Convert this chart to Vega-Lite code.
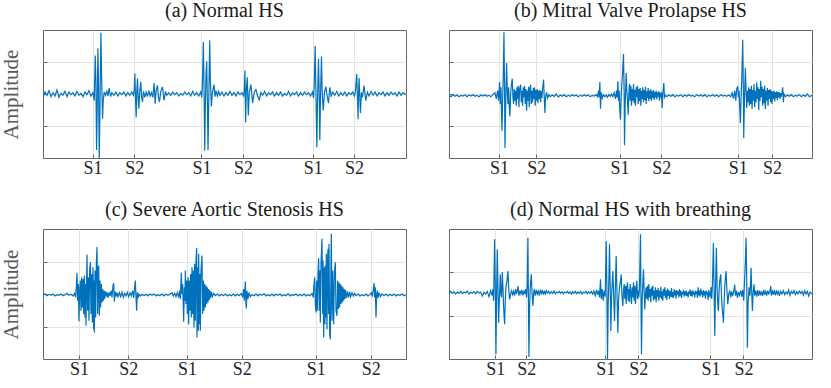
{
"$schema":"https://vega.github.io/schema/vega-lite/v6.json",
"padding":{"left":0,"top":0,"right":5,"bottom":5},
"background":"white",
"bounds":"flush",
"columns":2,
"spacing":{"row":71,"column":43},
"config":{
"font":"Liberation Serif",
"view":{"stroke":"#666666","strokeWidth":1},
"axis":{"gridColor":"#e3e3e3","gridWidth":1,"domain":false,"tickColor":"#666666","tickSize":-4,"labelFont":"Liberation Serif","labelFontSize":18,"labelColor":"#262626","labelPadding":5,"titleFont":"Liberation Serif","titleFontSize":21,"titleFontWeight":"normal","titleColor":"#595959"},
"title":{"font":"Liberation Serif","fontSize":20,"fontWeight":"normal","color":"#1a1a1a","offset":9},
"line":{"color":"#0072BD","strokeWidth":1.2}
},
"datasets":{
"a":[
{"t":126,"v":-10},{"t":132,"v":6},{"t":138,"v":-4},{"t":144,"v":10},{"t":150,"v":-8},{"t":156,"v":4},{"t":162,"v":-6},{"t":168,"v":12},{"t":174,"v":-10},{"t":180,"v":2},{"t":186,"v":-4},{"t":192,"v":8},{"t":198,"v":-8},{"t":204,"v":6},{"t":210,"v":-2},{"t":216,"v":4},{"t":222,"v":-6},{"t":228,"v":8},{"t":234,"v":-4},{"t":240,"v":2},{"t":246,"v":-8},{"t":252,"v":6},{"t":258,"v":-2},{"t":264,"v":10},{"t":270,"v":-6},{"t":276,"v":4},
{"t":280,"v":-20},{"t":283,"v":115},{"t":285,"v":40},{"t":287,"v":-167},{"t":289,"v":-40},{"t":291,"v":136},{"t":293,"v":30},{"t":295,"v":-191},{"t":297,"v":-60},{"t":300,"v":183},{"t":302,"v":60},{"t":305,"v":-74},{"t":307,"v":-20},{"t":310,"v":6},{"t":314,"v":-4},{"t":318,"v":8},{"t":321,"v":-6},{"t":325,"v":18},{"t":329,"v":-8},{"t":333,"v":4},{"t":339,"v":-4},{"t":345,"v":6},{"t":351,"v":-6},{"t":357,"v":4},{"t":363,"v":-2},{"t":369,"v":6},{"t":375,"v":-6},{"t":381,"v":4},{"t":387,"v":-4},{"t":393,"v":6},{"t":398,"v":-4},
{"t":400,"v":10},{"t":402,"v":61},{"t":404,"v":-10},{"t":406,"v":-69},{"t":408,"v":10},{"t":410,"v":46},{"t":412,"v":-10},{"t":414,"v":-44},{"t":417,"v":10},{"t":420,"v":36},{"t":422,"v":-5},{"t":425,"v":-24},{"t":428,"v":8},{"t":432,"v":-10},{"t":436,"v":6},{"t":440,"v":-8},{"t":444,"v":10},{"t":448,"v":-6},{"t":452,"v":4},{"t":456,"v":-10},{"t":460,"v":33},{"t":463,"v":-29},{"t":466,"v":10},{"t":470,"v":26},{"t":473,"v":-10},{"t":476,"v":-24},{"t":480,"v":8},{"t":485,"v":21},{"t":488,"v":-5},{"t":490,"v":-19},{"t":494,"v":8},{"t":498,"v":-4},
{"t":504,"v":4},{"t":510,"v":-4},{"t":516,"v":6},{"t":522,"v":-2},{"t":528,"v":4},{"t":534,"v":-6},{"t":540,"v":2},{"t":546,"v":-4},{"t":552,"v":6},{"t":558,"v":-2},{"t":564,"v":4},{"t":570,"v":-6},{"t":576,"v":8},{"t":582,"v":-4},{"t":588,"v":4},{"t":594,"v":-6},{"t":600,"v":6},
{"t":603,"v":-10},{"t":605,"v":20},{"t":608,"v":155},{"t":610,"v":20},{"t":612,"v":-169},{"t":614,"v":-30},{"t":616,"v":60},{"t":618,"v":98},{"t":620,"v":-20},{"t":622,"v":-167},{"t":624,"v":-30},{"t":627,"v":160},{"t":629,"v":40},{"t":632,"v":-37},{"t":635,"v":5},{"t":640,"v":28},{"t":643,"v":-8},{"t":646,"v":10},{"t":650,"v":-6},{"t":654,"v":8},{"t":658,"v":-4},{"t":664,"v":6},{"t":670,"v":-6},{"t":676,"v":4},{"t":682,"v":-4},{"t":688,"v":8},{"t":694,"v":-4},{"t":700,"v":4},{"t":706,"v":-6},{"t":712,"v":6},{"t":718,"v":-2},{"t":724,"v":4},{"t":729,"v":-6},
{"t":731,"v":10},{"t":733,"v":70},{"t":735,"v":-85},{"t":737,"v":10},{"t":740,"v":50},{"t":743,"v":-64},{"t":746,"v":5},{"t":751,"v":28},{"t":756,"v":-27},{"t":761,"v":6},{"t":766,"v":13},{"t":771,"v":-6},{"t":776,"v":-17},{"t":781,"v":4},{"t":786,"v":-4},{"t":792,"v":8},{"t":798,"v":-6},{"t":804,"v":4},{"t":810,"v":-2},{"t":816,"v":6},{"t":822,"v":-6},{"t":828,"v":4},{"t":834,"v":-4},{"t":840,"v":6},{"t":846,"v":-6},{"t":852,"v":2},{"t":858,"v":-4},{"t":864,"v":8},{"t":870,"v":-6},{"t":876,"v":4},{"t":882,"v":-2},{"t":888,"v":6},{"t":894,"v":-6},{"t":900,"v":4},{"t":906,"v":-4},{"t":912,"v":6},{"t":918,"v":-2},{"t":924,"v":4},{"t":930,"v":-6},{"t":936,"v":6},
{"t":939,"v":-12},{"t":941,"v":20},{"t":944,"v":143},{"t":946,"v":20},{"t":949,"v":-159},{"t":951,"v":-20},{"t":954,"v":105},{"t":956,"v":10},{"t":958,"v":-137},{"t":960,"v":-10},{"t":963,"v":112},{"t":965,"v":10},{"t":968,"v":-50},{"t":972,"v":4},{"t":976,"v":22},{"t":980,"v":-6},{"t":984,"v":-27},{"t":988,"v":20},{"t":992,"v":-6},{"t":997,"v":6},{"t":1003,"v":-4},{"t":1009,"v":8},{"t":1015,"v":-6},{"t":1021,"v":4},{"t":1027,"v":-4},{"t":1033,"v":6},{"t":1039,"v":-6},{"t":1045,"v":4},{"t":1051,"v":-2},{"t":1057,"v":6},{"t":1062,"v":-6},
{"t":1065,"v":8},{"t":1069,"v":60},{"t":1071,"v":-10},{"t":1073,"v":-75},{"t":1074,"v":-10},{"t":1076,"v":48},{"t":1078,"v":-5},{"t":1080,"v":-57},{"t":1083,"v":5},{"t":1086,"v":-10},{"t":1091,"v":25},{"t":1096,"v":-20},{"t":1101,"v":6},{"t":1106,"v":-6},{"t":1112,"v":8},{"t":1118,"v":-4},{"t":1124,"v":6},{"t":1130,"v":-6},{"t":1136,"v":4},{"t":1142,"v":-2},{"t":1148,"v":6},{"t":1154,"v":-6},{"t":1160,"v":4},{"t":1166,"v":-4},{"t":1172,"v":6},{"t":1178,"v":-2},{"t":1184,"v":4},{"t":1190,"v":-6},{"t":1196,"v":6},{"t":1202,"v":-4},{"t":1208,"v":4},{"t":1217,"v":-2}
],
"b":[
{"t":100,"v":-4},{"t":106,"v":-8},{"t":112,"v":-2},{"t":118,"v":-7},{"t":124,"v":-3},{"t":130,"v":-8},{"t":136,"v":-4},{"t":142,"v":-6},{"t":148,"v":-2},{"t":154,"v":-8},{"t":160,"v":-3},{"t":166,"v":-6},{"t":172,"v":-2},{"t":178,"v":-7},{"t":184,"v":-4},{"t":190,"v":-8},{"t":196,"v":-3},{"t":202,"v":-6},{"t":208,"v":-2},{"t":214,"v":-7},{"t":220,"v":-4},{"t":226,"v":-8},{"t":232,"v":-2},{"t":238,"v":4},{"t":242,"v":-15},{"t":246,"v":10},{"t":249,"v":-20},
{"t":252,"v":36},{"t":254,"v":-30},{"t":256,"v":20},{"t":259,"v":-110},{"t":261,"v":-20},{"t":263,"v":60},{"t":265,"v":185},{"t":267,"v":0},{"t":268,"v":-162},{"t":270,"v":-40},{"t":273,"v":93},{"t":275,"v":10},{"t":277,"v":-30},{"t":279,"v":20},{"t":281,"v":-40},{"t":283,"v":-67},{"t":285,"v":0},{"t":287,"v":25},{"t":290,"v":46},{"t":292,"v":-10},{"t":294,"v":-30},{"t":296,"v":15},{"t":298,"v":-20},{"t":300,"v":10},{"t":302,"v":-35},{"t":304,"v":20},{"t":306,"v":-15},{"t":308,"v":25},{"t":310,"v":-40},{"t":312,"v":15},{"t":315,"v":28},{"t":317,"v":-25},{"t":319,"v":10},{"t":321,"v":-35},{"t":323,"v":20},{"t":325,"v":-10},{"t":327,"v":24},{"t":329,"v":-30},{"t":331,"v":15},{"t":333,"v":-50},{"t":335,"v":10},{"t":337,"v":-20},{"t":339,"v":22},{"t":341,"v":-40},{"t":343,"v":15},{"t":345,"v":28},{"t":347,"v":-30},{"t":349,"v":10},{"t":351,"v":-25},{"t":353,"v":18},{"t":355,"v":-15},{"t":357,"v":20},{"t":359,"v":-35},{"t":361,"v":12},{"t":363,"v":-20},{"t":365,"v":15},{"t":367,"v":-28},{"t":369,"v":10},{"t":371,"v":-15},{"t":373,"v":12},{"t":375,"v":-25},{"t":377,"v":8},{"t":379,"v":-12},{"t":381,"v":15},{"t":384,"v":43},{"t":386,"v":-10},{"t":388,"v":-57},{"t":390,"v":-10},{"t":393,"v":5},{"t":396,"v":-12},{"t":400,"v":-2},{"t":404,"v":-8},
{"t":410,"v":-3},{"t":416,"v":-7},{"t":422,"v":0},{"t":428,"v":-9},{"t":434,"v":-3},{"t":440,"v":-7},{"t":446,"v":-2},{"t":452,"v":-8},{"t":458,"v":-4},{"t":464,"v":-7},{"t":470,"v":-2},{"t":476,"v":-6},{"t":482,"v":-3},{"t":488,"v":-8},{"t":494,"v":-4},{"t":500,"v":-7},{"t":506,"v":-2},{"t":512,"v":-6},{"t":518,"v":-3},{"t":524,"v":-8},{"t":530,"v":-4},{"t":536,"v":-6},{"t":542,"v":-2},{"t":546,"v":-8},
{"t":549,"v":10},{"t":551,"v":-10},{"t":553,"v":36},{"t":555,"v":-44},{"t":557,"v":5},{"t":560,"v":-12},{"t":564,"v":-2},{"t":568,"v":-8},{"t":572,"v":-3},{"t":576,"v":-10},{"t":580,"v":-2},{"t":584,"v":-7},{"t":588,"v":0},{"t":592,"v":-8},{"t":596,"v":4},{"t":600,"v":-15},{"t":603,"v":10},{"t":605,"v":-10},{"t":607,"v":38},{"t":609,"v":-20},{"t":611,"v":10},{"t":613,"v":-50},{"t":615,"v":-77},{"t":617,"v":-10},{"t":619,"v":30},{"t":621,"v":60},{"t":624,"v":120},{"t":626,"v":0},{"t":627,"v":-154},{"t":629,"v":-30},{"t":632,"v":63},{"t":634,"v":10},{"t":636,"v":-20},{"t":638,"v":-62},{"t":640,"v":0},{"t":642,"v":30},{"t":644,"v":-20},{"t":646,"v":25},{"t":648,"v":-35},{"t":650,"v":15},{"t":652,"v":-20},{"t":654,"v":30},{"t":656,"v":-28},{"t":658,"v":12},{"t":660,"v":-35},{"t":662,"v":20},{"t":664,"v":-10},{"t":666,"v":25},{"t":668,"v":-30},{"t":670,"v":15},{"t":672,"v":-22},{"t":674,"v":18},{"t":676,"v":-35},{"t":678,"v":10},{"t":680,"v":-15},{"t":682,"v":20},{"t":684,"v":-25},{"t":686,"v":12},{"t":688,"v":-18},{"t":690,"v":22},{"t":692,"v":-30},{"t":694,"v":8},{"t":696,"v":-12},{"t":698,"v":18},{"t":700,"v":-22},{"t":702,"v":10},{"t":704,"v":-15},{"t":706,"v":15},{"t":708,"v":-20},{"t":710,"v":8},{"t":712,"v":-12},{"t":714,"v":12},{"t":716,"v":-18},{"t":718,"v":6},{"t":720,"v":-10},{"t":722,"v":10},{"t":724,"v":-16},{"t":726,"v":5},{"t":728,"v":-8},{"t":730,"v":8},{"t":732,"v":-20},{"t":734,"v":4},{"t":736,"v":-10},{"t":738,"v":5},{"t":740,"v":-42},{"t":742,"v":0},{"t":745,"v":33},{"t":747,"v":-10},{"t":750,"v":-4},{"t":754,"v":-8},{"t":760,"v":-3},
{"t":766,"v":-7},{"t":772,"v":-2},{"t":778,"v":-8},{"t":784,"v":-4},{"t":790,"v":-6},{"t":796,"v":-2},{"t":802,"v":-8},{"t":808,"v":-3},{"t":814,"v":-7},{"t":820,"v":-2},{"t":826,"v":-6},{"t":832,"v":-4},{"t":838,"v":-8},{"t":844,"v":-2},{"t":850,"v":-6},{"t":856,"v":-3},{"t":862,"v":-7},{"t":868,"v":-2},{"t":874,"v":-8},{"t":880,"v":-4},{"t":886,"v":-6},{"t":892,"v":-2},{"t":898,"v":-7},{"t":904,"v":-3},{"t":910,"v":-8},{"t":916,"v":-2},{"t":922,"v":-6},{"t":928,"v":-4},{"t":934,"v":-7},{"t":940,"v":-3},{"t":946,"v":-8},{"t":950,"v":4},{"t":954,"v":-14},{"t":958,"v":10},
{"t":961,"v":-20},{"t":964,"v":15},{"t":967,"v":23},{"t":969,"v":-10},{"t":971,"v":10},{"t":973,"v":-40},{"t":975,"v":-87},{"t":977,"v":-10},{"t":979,"v":40},{"t":982,"v":163},{"t":984,"v":0},{"t":985,"v":-132},{"t":987,"v":-20},{"t":990,"v":78},{"t":992,"v":10},{"t":994,"v":-42},{"t":996,"v":10},{"t":998,"v":-25},{"t":1000,"v":20},{"t":1002,"v":-35},{"t":1004,"v":15},{"t":1006,"v":-30},{"t":1008,"v":25},{"t":1010,"v":-45},{"t":1012,"v":12},{"t":1014,"v":-20},{"t":1016,"v":30},{"t":1018,"v":-40},{"t":1020,"v":10},{"t":1022,"v":-25},{"t":1024,"v":35},{"t":1026,"v":-15},{"t":1028,"v":20},{"t":1030,"v":-48},{"t":1032,"v":15},{"t":1034,"v":-20},{"t":1036,"v":40},{"t":1038,"v":-10},{"t":1040,"v":22},{"t":1042,"v":-35},{"t":1044,"v":15},{"t":1046,"v":-28},{"t":1048,"v":25},{"t":1050,"v":-45},{"t":1052,"v":10},{"t":1054,"v":-20},{"t":1056,"v":18},{"t":1058,"v":-35},{"t":1060,"v":12},{"t":1062,"v":-15},{"t":1064,"v":15},{"t":1066,"v":-25},{"t":1068,"v":10},{"t":1070,"v":-30},{"t":1072,"v":8},{"t":1074,"v":-15},{"t":1076,"v":10},{"t":1078,"v":-22},{"t":1080,"v":5},{"t":1082,"v":-12},{"t":1084,"v":8},{"t":1086,"v":-18},{"t":1088,"v":6},{"t":1090,"v":-10},{"t":1092,"v":5},{"t":1094,"v":-15},{"t":1096,"v":3},{"t":1098,"v":-8},{"t":1100,"v":4},{"t":1102,"v":20},{"t":1104,"v":-25},{"t":1106,"v":0},{"t":1110,"v":-8},{"t":1116,"v":-3},
{"t":1122,"v":-7},{"t":1128,"v":-2},{"t":1134,"v":-8},{"t":1140,"v":-4},{"t":1146,"v":-6},{"t":1152,"v":-2},{"t":1158,"v":-8},{"t":1164,"v":-3},{"t":1170,"v":-7},{"t":1176,"v":0},{"t":1182,"v":-8},{"t":1190,"v":-4}
],
"c":[
{"t":133,"v":-3},{"t":139,"v":0},{"t":145,"v":-5},{"t":151,"v":-1},{"t":157,"v":-4},{"t":163,"v":0},{"t":169,"v":-6},{"t":175,"v":-2},{"t":181,"v":-4},{"t":187,"v":0},{"t":193,"v":-5},{"t":199,"v":-2},{"t":205,"v":2},{"t":211,"v":-4},{"t":217,"v":-1},{"t":223,"v":-6},{"t":228,"v":2},{"t":231,"v":-10},{"t":233,"v":20},
{"t":235,"v":63},{"t":237,"v":-20},{"t":239,"v":30},{"t":241,"v":-81},{"t":243,"v":10},{"t":245,"v":40},{"t":247,"v":-50},{"t":249,"v":50},{"t":251,"v":-40},{"t":253,"v":45},{"t":255,"v":-60},{"t":257,"v":55},{"t":259,"v":-70},{"t":261,"v":30},{"t":262,"v":-95},{"t":264,"v":60},{"t":265,"v":117},{"t":267,"v":-50},{"t":269,"v":50},{"t":271,"v":-80},{"t":273,"v":70},{"t":275,"v":95},{"t":277,"v":-60},{"t":279,"v":60},{"t":281,"v":-85},{"t":283,"v":80},{"t":285,"v":-105},{"t":286,"v":40},{"t":287,"v":-115},{"t":289,"v":70},{"t":291,"v":-70},{"t":293,"v":90},{"t":295,"v":140},{"t":297,"v":-60},{"t":299,"v":80},{"t":300,"v":85},{"t":302,"v":-65},{"t":304,"v":40},{"t":306,"v":-40},{"t":308,"v":30},{"t":310,"v":-25},{"t":312,"v":15},{"t":314,"v":-20},{"t":316,"v":10},{"t":318,"v":-15},{"t":320,"v":8},{"t":322,"v":-8},{"t":325,"v":6},{"t":328,"v":-12},{"t":331,"v":5},{"t":334,"v":-6},{"t":337,"v":10},{"t":340,"v":-10},{"t":343,"v":25},{"t":345,"v":32},{"t":347,"v":-23},{"t":349,"v":8},{"t":352,"v":-8},{"t":355,"v":5},{"t":358,"v":-10},{"t":362,"v":4},{"t":366,"v":-8},{"t":370,"v":6},{"t":374,"v":-10},{"t":378,"v":2},{"t":382,"v":-6},{"t":386,"v":5},{"t":390,"v":-8},{"t":394,"v":4},{"t":398,"v":-6},{"t":402,"v":10},{"t":405,"v":-12},{"t":408,"v":20},{"t":410,"v":40},{"t":412,"v":-10},{"t":414,"v":-50},{"t":416,"v":5},{"t":418,"v":-12},{"t":421,"v":0},{"t":425,"v":-6},
{"t":430,"v":-1},{"t":436,"v":-5},{"t":442,"v":-1},{"t":448,"v":-6},{"t":454,"v":0},{"t":460,"v":-4},{"t":466,"v":0},{"t":472,"v":-6},{"t":478,"v":-2},{"t":484,"v":-5},{"t":490,"v":0},{"t":496,"v":-6},{"t":502,"v":-1},{"t":508,"v":-4},{"t":514,"v":0},{"t":520,"v":4},{"t":524,"v":-6},{"t":528,"v":2},{"t":532,"v":-8},{"t":536,"v":4},{"t":540,"v":-10},{"t":543,"v":10},{"t":545,"v":-15},
{"t":548,"v":63},{"t":550,"v":0},{"t":552,"v":30},{"t":555,"v":-83},{"t":557,"v":20},{"t":559,"v":-20},{"t":560,"v":70},{"t":562,"v":-30},{"t":564,"v":40},{"t":566,"v":-60},{"t":568,"v":50},{"t":570,"v":-90},{"t":572,"v":40},{"t":574,"v":-50},{"t":576,"v":60},{"t":578,"v":-70},{"t":580,"v":80},{"t":582,"v":-60},{"t":584,"v":70},{"t":586,"v":-100},{"t":588,"v":90},{"t":590,"v":-80},{"t":592,"v":100},{"t":594,"v":137},{"t":595,"v":-130},{"t":597,"v":80},{"t":599,"v":-110},{"t":600,"v":120},{"t":602,"v":-90},{"t":604,"v":60},{"t":605,"v":-110},{"t":607,"v":70},{"t":610,"v":115},{"t":612,"v":-60},{"t":614,"v":40},{"t":616,"v":-50},{"t":618,"v":30},{"t":620,"v":-40},{"t":622,"v":25},{"t":624,"v":-30},{"t":626,"v":20},{"t":628,"v":-25},{"t":630,"v":15},{"t":632,"v":-18},{"t":634,"v":10},{"t":636,"v":-12},{"t":638,"v":6},{"t":641,"v":-8},{"t":645,"v":2},
{"t":650,"v":-5},{"t":656,"v":0},{"t":662,"v":-6},{"t":668,"v":-1},{"t":674,"v":-5},{"t":680,"v":0},{"t":686,"v":-6},{"t":692,"v":-2},{"t":698,"v":-5},{"t":704,"v":0},{"t":710,"v":-6},{"t":716,"v":-1},{"t":722,"v":-5},{"t":728,"v":2},{"t":732,"v":-10},{"t":735,"v":15},{"t":737,"v":-20},{"t":740,"v":37},{"t":742,"v":-30},{"t":743,"v":-43},{"t":745,"v":10},{"t":748,"v":-15},{"t":751,"v":5},{"t":755,"v":-8},{"t":760,"v":-2},
{"t":766,"v":-5},{"t":772,"v":0},{"t":778,"v":-6},{"t":784,"v":-1},{"t":790,"v":-4},{"t":796,"v":1},{"t":802,"v":-6},{"t":808,"v":-2},{"t":814,"v":-5},{"t":820,"v":0},{"t":826,"v":-6},{"t":832,"v":-1},{"t":838,"v":-4},{"t":844,"v":0},{"t":850,"v":-6},{"t":856,"v":-2},{"t":862,"v":-5},{"t":868,"v":1},{"t":874,"v":-6},{"t":880,"v":-2},{"t":886,"v":-4},{"t":892,"v":0},{"t":898,"v":-6},{"t":904,"v":-1},{"t":910,"v":-5},{"t":916,"v":0},{"t":922,"v":-6},{"t":928,"v":-2},{"t":934,"v":-5},{"t":940,"v":2},{"t":944,"v":-10},{"t":946,"v":30},
{"t":948,"v":50},{"t":950,"v":-30},{"t":952,"v":-55},{"t":954,"v":40},{"t":956,"v":-50},{"t":958,"v":60},{"t":960,"v":107},{"t":962,"v":-50},{"t":964,"v":70},{"t":965,"v":-85},{"t":967,"v":90},{"t":970,"v":165},{"t":972,"v":-60},{"t":973,"v":100},{"t":975,"v":-130},{"t":977,"v":80},{"t":979,"v":-90},{"t":980,"v":85},{"t":982,"v":-70},{"t":983,"v":120},{"t":985,"v":-105},{"t":987,"v":110},{"t":988,"v":135},{"t":990,"v":-60},{"t":991,"v":150},{"t":993,"v":-120},{"t":995,"v":-135},{"t":997,"v":100},{"t":998,"v":180},{"t":1000,"v":-80},{"t":1002,"v":70},{"t":1005,"v":-90},{"t":1007,"v":60},{"t":1010,"v":95},{"t":1012,"v":-50},{"t":1015,"v":-65},{"t":1017,"v":40},{"t":1019,"v":-45},{"t":1021,"v":35},{"t":1023,"v":-40},{"t":1025,"v":30},{"t":1027,"v":-30},{"t":1029,"v":25},{"t":1031,"v":-25},{"t":1033,"v":20},{"t":1035,"v":-20},{"t":1037,"v":15},{"t":1039,"v":-15},{"t":1041,"v":12},{"t":1044,"v":-12},{"t":1047,"v":8},{"t":1050,"v":-10},{"t":1053,"v":6},{"t":1056,"v":-8},{"t":1060,"v":4},{"t":1064,"v":-6},{"t":1068,"v":2},{"t":1072,"v":-5},{"t":1078,"v":0},{"t":1084,"v":-6},{"t":1090,"v":-2},{"t":1096,"v":-5},{"t":1102,"v":0},{"t":1108,"v":-6},{"t":1114,"v":-2},{"t":1118,"v":4},{"t":1121,"v":-8},{"t":1124,"v":15},{"t":1126,"v":33},{"t":1128,"v":-10},{"t":1130,"v":20},{"t":1132,"v":-70},{"t":1134,"v":0},{"t":1136,"v":10},{"t":1138,"v":-12},{"t":1141,"v":4},{"t":1145,"v":-8},
{"t":1150,"v":0},{"t":1156,"v":-5},{"t":1162,"v":0},{"t":1168,"v":-6},{"t":1174,"v":-1},{"t":1180,"v":-5},{"t":1186,"v":0},{"t":1192,"v":-6},{"t":1198,"v":-2},{"t":1204,"v":-4},{"t":1210,"v":0},{"t":1216,"v":-5},{"t":1222,"v":-2}
],
"d":[
{"t":108,"v":0},{"t":113,"v":8},{"t":118,"v":2},{"t":123,"v":7},{"t":128,"v":0},{"t":133,"v":6},{"t":138,"v":2},{"t":143,"v":8},{"t":148,"v":1},{"t":153,"v":6},{"t":158,"v":3},{"t":163,"v":9},{"t":168,"v":0},{"t":173,"v":5},{"t":178,"v":2},{"t":183,"v":7},{"t":188,"v":1},{"t":193,"v":8},{"t":198,"v":3},{"t":203,"v":6},{"t":208,"v":-6},{"t":213,"v":5},{"t":218,"v":0},{"t":223,"v":8},{"t":228,"v":-8},{"t":233,"v":10},{"t":237,"v":-5},{"t":240,"v":15},{"t":242,"v":-20},
{"t":245,"v":164},{"t":247,"v":20},{"t":249,"v":-181},{"t":251,"v":10},{"t":253,"v":134},{"t":255,"v":20},{"t":257,"v":-86},{"t":259,"v":-20},{"t":261,"v":30},{"t":262,"v":59},{"t":264,"v":0},{"t":266,"v":-10},{"t":268,"v":66},{"t":270,"v":20},{"t":272,"v":-40},{"t":275,"v":-91},{"t":277,"v":-20},{"t":279,"v":20},{"t":282,"v":40},{"t":285,"v":69},{"t":287,"v":20},{"t":290,"v":-16},{"t":293,"v":0},{"t":296,"v":10},{"t":299,"v":-2},{"t":302,"v":8},{"t":305,"v":-5},{"t":308,"v":14},{"t":311,"v":0},{"t":315,"v":24},{"t":318,"v":-5},{"t":321,"v":10},{"t":324,"v":0},{"t":327,"v":12},{"t":330,"v":-4},{"t":333,"v":8},{"t":336,"v":0},{"t":338,"v":15},{"t":341,"v":-10},{"t":343,"v":30},{"t":345,"v":169},{"t":346,"v":40},{"t":348,"v":-189},{"t":350,"v":-40},{"t":352,"v":20},{"t":355,"v":59},{"t":357,"v":10},{"t":360,"v":-36},{"t":362,"v":0},{"t":364,"v":15},{"t":367,"v":-5},{"t":370,"v":12},{"t":373,"v":0},{"t":376,"v":9},{"t":379,"v":-4},{"t":382,"v":10},{"t":385,"v":2},{"t":388,"v":12},{"t":391,"v":-2},{"t":394,"v":8},{"t":397,"v":0},{"t":400,"v":10},
{"t":403,"v":3},{"t":407,"v":8},{"t":411,"v":1},{"t":415,"v":7},{"t":419,"v":2},{"t":423,"v":9},{"t":427,"v":1},{"t":431,"v":6},{"t":435,"v":3},{"t":439,"v":8},{"t":443,"v":2},{"t":447,"v":7},{"t":451,"v":1},{"t":455,"v":6},{"t":459,"v":3},{"t":463,"v":8},{"t":467,"v":2},{"t":471,"v":6},{"t":475,"v":0},{"t":479,"v":7},{"t":483,"v":2},{"t":487,"v":8},{"t":491,"v":1},{"t":495,"v":6},{"t":499,"v":2},{"t":503,"v":8},{"t":507,"v":0},{"t":511,"v":6},{"t":515,"v":3},{"t":519,"v":8},{"t":523,"v":1},{"t":527,"v":7},{"t":531,"v":2},{"t":535,"v":8},{"t":539,"v":0},{"t":543,"v":9},{"t":547,"v":-5},{"t":551,"v":12},{"t":554,"v":-2},{"t":557,"v":10},{"t":560,"v":-10},{"t":563,"v":44},{"t":565,"v":-15},{"t":568,"v":15},{"t":571,"v":-20},{"t":574,"v":10},{"t":577,"v":-8},
{"t":580,"v":159},{"t":582,"v":30},{"t":584,"v":-196},{"t":586,"v":-30},{"t":588,"v":40},{"t":590,"v":149},{"t":592,"v":20},{"t":594,"v":-111},{"t":596,"v":-10},{"t":598,"v":30},{"t":600,"v":69},{"t":602,"v":10},{"t":605,"v":-81},{"t":607,"v":0},{"t":610,"v":114},{"t":612,"v":20},{"t":615,"v":-116},{"t":617,"v":-20},{"t":620,"v":20},{"t":623,"v":40},{"t":625,"v":59},{"t":627,"v":0},{"t":630,"v":-36},{"t":632,"v":10},{"t":634,"v":30},{"t":636,"v":-15},{"t":638,"v":25},{"t":640,"v":-30},{"t":642,"v":20},{"t":644,"v":35},{"t":646,"v":-20},{"t":648,"v":15},{"t":650,"v":-25},{"t":652,"v":30},{"t":654,"v":5},{"t":656,"v":-30},{"t":658,"v":20},{"t":660,"v":-10},{"t":662,"v":35},{"t":664,"v":-20},{"t":666,"v":25},{"t":668,"v":-30},{"t":670,"v":15},{"t":672,"v":40},{"t":674,"v":-15},{"t":676,"v":10},{"t":678,"v":-10},{"t":680,"v":20},
{"t":683,"v":179},{"t":684,"v":40},{"t":686,"v":-181},{"t":688,"v":-20},{"t":690,"v":30},{"t":692,"v":74},{"t":694,"v":10},{"t":696,"v":-46},{"t":698,"v":0},{"t":700,"v":20},{"t":702,"v":-15},{"t":704,"v":25},{"t":706,"v":-20},{"t":708,"v":30},{"t":710,"v":-10},{"t":712,"v":15},{"t":714,"v":-25},{"t":716,"v":20},{"t":718,"v":-5},{"t":720,"v":25},{"t":722,"v":-20},{"t":724,"v":10},{"t":726,"v":-15},{"t":728,"v":20},{"t":730,"v":-25},{"t":732,"v":12},{"t":734,"v":-8},{"t":736,"v":18},{"t":738,"v":-20},{"t":740,"v":10},{"t":742,"v":-10},{"t":744,"v":22},{"t":746,"v":-15},{"t":748,"v":8},{"t":750,"v":-20},{"t":752,"v":15},{"t":754,"v":-5},{"t":756,"v":20},{"t":758,"v":-12},{"t":760,"v":10},{"t":762,"v":-18},{"t":764,"v":16},{"t":766,"v":-6},{"t":768,"v":12},{"t":770,"v":-15},{"t":772,"v":8},{"t":774,"v":-8},{"t":776,"v":18},{"t":778,"v":-10},{"t":780,"v":6},{"t":782,"v":-12},{"t":784,"v":14},{"t":786,"v":-4},{"t":788,"v":10},{"t":790,"v":-14},{"t":792,"v":12},{"t":794,"v":-2},{"t":796,"v":8},{"t":798,"v":-10},{"t":800,"v":15},{"t":802,"v":-5},{"t":804,"v":10},{"t":806,"v":-12},{"t":808,"v":6},{"t":810,"v":0},{"t":812,"v":12},{"t":814,"v":-8},{"t":816,"v":8},{"t":818,"v":-4},{"t":820,"v":10},{"t":822,"v":-6},{"t":824,"v":5},{"t":826,"v":-10},{"t":828,"v":8},{"t":830,"v":0},{"t":832,"v":14},{"t":834,"v":-6},{"t":836,"v":8},{"t":838,"v":-8},{"t":840,"v":12},{"t":842,"v":-2},{"t":844,"v":6},{"t":846,"v":-10},{"t":848,"v":10},{"t":850,"v":0},{"t":852,"v":8},{"t":854,"v":-12},{"t":856,"v":20},{"t":858,"v":-4},{"t":860,"v":10},{"t":862,"v":-8},{"t":864,"v":16},{"t":866,"v":-2},{"t":868,"v":8},{"t":870,"v":-10},{"t":872,"v":12},{"t":874,"v":-4},{"t":876,"v":8},{"t":878,"v":-14},{"t":880,"v":10},{"t":882,"v":-2},{"t":884,"v":6},{"t":886,"v":-18},{"t":888,"v":12},{"t":890,"v":0},{"t":892,"v":-10},{"t":895,"v":20},{"t":897,"v":-15},{"t":899,"v":30},
{"t":902,"v":154},{"t":904,"v":20},{"t":906,"v":-126},{"t":908,"v":0},{"t":911,"v":139},{"t":913,"v":20},{"t":915,"v":-30},{"t":917,"v":-51},{"t":919,"v":10},{"t":921,"v":40},{"t":924,"v":59},{"t":926,"v":0},{"t":928,"v":-40},{"t":930,"v":-60},{"t":932,"v":-86},{"t":934,"v":-30},{"t":936,"v":20},{"t":938,"v":50},{"t":940,"v":69},{"t":942,"v":20},{"t":945,"v":-31},{"t":948,"v":0},{"t":951,"v":10},{"t":954,"v":-10},{"t":957,"v":8},{"t":960,"v":-6},{"t":964,"v":14},{"t":966,"v":28},{"t":968,"v":-5},{"t":971,"v":10},{"t":974,"v":-12},{"t":977,"v":6},{"t":980,"v":-4},{"t":984,"v":10},{"t":987,"v":-8},{"t":990,"v":12},{"t":993,"v":-20},{"t":995,"v":30},{"t":998,"v":100},
{"t":1000,"v":169},{"t":1002,"v":40},{"t":1004,"v":-161},{"t":1006,"v":-30},{"t":1009,"v":20},{"t":1012,"v":-5},{"t":1015,"v":79},{"t":1017,"v":10},{"t":1019,"v":-51},{"t":1021,"v":0},{"t":1024,"v":29},{"t":1026,"v":-5},{"t":1029,"v":10},{"t":1032,"v":-8},{"t":1035,"v":12},{"t":1038,"v":-6},{"t":1041,"v":10},{"t":1044,"v":-4},{"t":1047,"v":8},{"t":1050,"v":-6},{"t":1053,"v":12},{"t":1056,"v":-2},{"t":1059,"v":8},{"t":1062,"v":-5},{"t":1065,"v":10},{"t":1068,"v":0},{"t":1071,"v":6},{"t":1074,"v":24},{"t":1076,"v":-5},{"t":1079,"v":8},{"t":1082,"v":-2},{"t":1085,"v":12},{"t":1088,"v":-4},{"t":1091,"v":8},{"t":1094,"v":0},{"t":1097,"v":10},{"t":1100,"v":-6},{"t":1104,"v":8},{"t":1108,"v":0},{"t":1112,"v":10},{"t":1116,"v":-2},{"t":1120,"v":6},{"t":1124,"v":0},{"t":1128,"v":12},{"t":1132,"v":-4},{"t":1136,"v":8},{"t":1140,"v":2},{"t":1144,"v":10},{"t":1148,"v":-2},{"t":1152,"v":7},{"t":1156,"v":0},{"t":1160,"v":9},{"t":1164,"v":2},{"t":1168,"v":8},{"t":1172,"v":-4},{"t":1176,"v":10},{"t":1180,"v":0},{"t":1184,"v":8},{"t":1188,"v":-6},{"t":1192,"v":6},{"t":1198,"v":0}
]
},
"concat":[
{"title":"(a) Normal HS","width":363,"height":128,"data":{"name":"a"},"mark":{"type":"line","clip":true},
"encoding":{
"x":{"field":"t","type":"quantitative","scale":{"domain":[126,1217],"nice":false,"zero":false},"axis":{"values":[275,400,602,727,937,1061],"labelExpr":"indexof([275,602,937], datum.value) >= 0 ? 'S1' : 'S2'","title":null}},
"y":{"field":"v","type":"quantitative","scale":{"domain":[-191,191],"nice":false},"axis":{"values":[-95,0,95],"labels":false,"title":"Amplitude","titlePadding":21}}}},
{"title":"(b) Mitral Valve Prolapse HS","width":363,"height":128,"data":{"name":"b"},"mark":{"type":"line","clip":true},
"encoding":{
"x":{"field":"t","type":"quantitative","scale":{"domain":[100,1190],"nice":false,"zero":false},"axis":{"values":[250,362,612,737,967,1070],"labelExpr":"indexof([250,612,967], datum.value) >= 0 ? 'S1' : 'S2'","title":null}},
"y":{"field":"v","type":"quantitative","scale":{"domain":[-192,192],"nice":false},"axis":{"values":[-95,0,95],"labels":false,"title":null}}}},
{"title":"(c) Severe Aortic Stenosis HS","width":363,"height":130,"data":{"name":"c"},"mark":{"type":"line","clip":true},
"encoding":{
"x":{"field":"t","type":"quantitative","scale":{"domain":[133,1222],"nice":false,"zero":false},"axis":{"values":[241,389,565,729,951,1116],"labelExpr":"indexof([241,565,951], datum.value) >= 0 ? 'S1' : 'S2'","title":null}},
"y":{"field":"v","type":"quantitative","scale":{"domain":[-194,194],"nice":false},"axis":{"values":[-97,0,97],"labels":false,"title":"Amplitude","titlePadding":21}}}},
{"title":"(d) Normal HS with breathing","width":363,"height":130,"data":{"name":"d"},"mark":{"type":"line","clip":true},
"encoding":{
"x":{"field":"t","type":"quantitative","scale":{"domain":[108,1198],"nice":false,"zero":false},"axis":{"values":[247,340,577,676,893,992],"labelExpr":"indexof([247,577,893], datum.value) >= 0 ? 'S1' : 'S2'","title":null}},
"y":{"field":"v","type":"quantitative","scale":{"domain":[-195,195],"nice":false},"axis":{"values":[-65,65],"labels":false,"title":null}}}}
]
}
